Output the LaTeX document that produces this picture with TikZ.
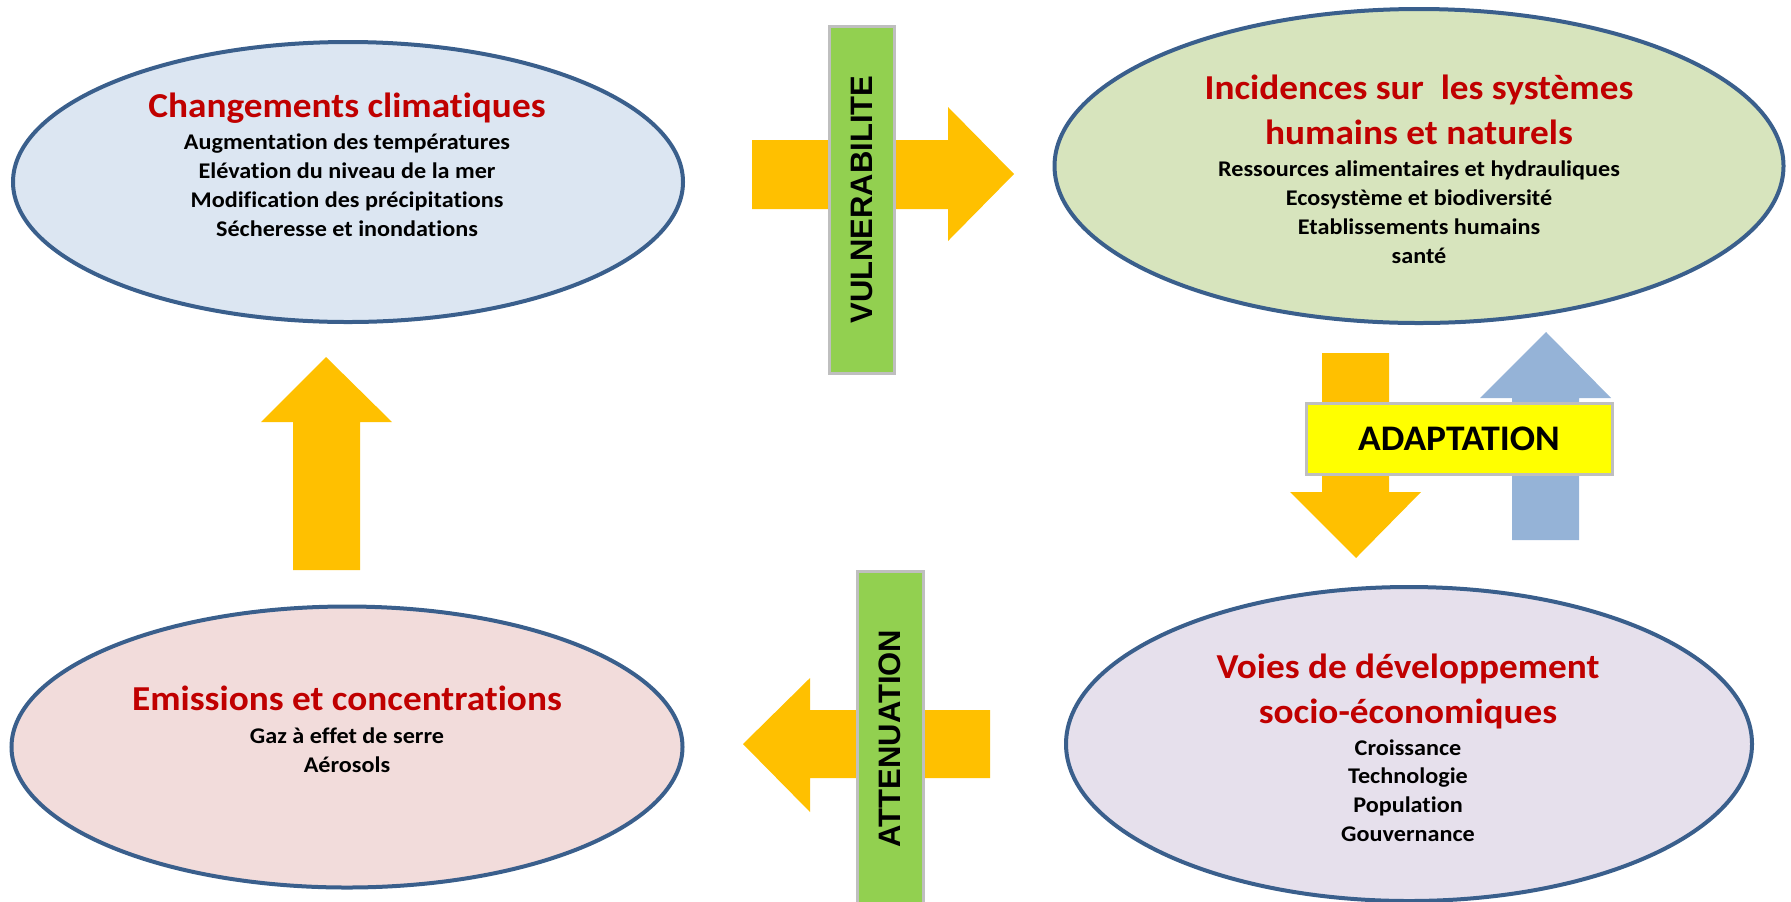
\documentclass[tikz,border=0pt]{standalone}
\usepackage{fontspec}
\setmainfont{Carlito}[RawFeature=-liga]
\newfontfamily\arialfont{Liberation Sans}
\newfontfamily\itemfont{Carlito}[FakeStretch=1.08, RawFeature=-liga]
\newfontfamily\titlefont{Carlito}[FakeStretch=1.065, RawFeature=-liga]
\newfontfamily\boxfont{Carlito}[FakeStretch=1.04, RawFeature=-liga]
\usetikzlibrary{shapes.geometric}
\definecolor{ringblue}{HTML}{3A5F8C}
\definecolor{titlered}{HTML}{C00000}
\definecolor{fillblue}{HTML}{DCE6F2}
\definecolor{fillgreen}{HTML}{D7E4BD}
\definecolor{fillpink}{HTML}{F2DCDB}
\definecolor{filllav}{HTML}{E6E0EC}
\definecolor{bargreen}{HTML}{92D050}
\definecolor{bargray}{HTML}{BFBFBF}
\definecolor{arroworange}{HTML}{FFC000}
\definecolor{arrowblue}{HTML}{95B3D7}
\definecolor{boxyellow}{HTML}{FFFF00}
\tikzset{
  bubble/.style={ellipse, draw=ringblue, line width=2pt, inner sep=0pt},
  ttl/.style={anchor=base, text=titlered, font=\titlefont\fontsize{17.5}{21}\selectfont\bfseries},
  itm/.style={anchor=base, font=\itemfont\fontsize{11.2}{13}\selectfont\bfseries},
  barbox/.style={rectangle, fill=bargreen, draw=bargray, line width=1.5pt, inner sep=0pt,
     font=\arialfont\fontsize{15.5}{18}\selectfont\bfseries, rotate=90},
  blockarrow/.style={fill=arroworange},
  bluearrow/.style={fill=arrowblue},
}
\begin{document}
\begin{tikzpicture}[x=0.5pt,y=-0.5pt]
\useasboundingbox (0,0) rectangle (1791,901);

% ellipses
\node[bubble, fill=fillblue, minimum width=335pt, minimum height=140pt] (cc) at (348,182) {};
\node[bubble, fill=fillgreen, minimum width=364.5pt, minimum height=157pt] (inc) at (1419,166) {};
\node[bubble, fill=fillpink, minimum width=335.5pt, minimum height=140.5pt] (em) at (347,747) {};
\node[bubble, fill=filllav, minimum width=343pt, minimum height=157pt] (voies) at (1409,744) {};

% texts: Changements climatiques
\node[ttl] (cct) at (347,117) {Changements climatiques};
\node[itm] (cc1) at (347,149) {Augmentation des températures};
\node[itm] (cc2) at (347,178) {Elévation du niveau de la mer};
\node[itm] (cc3) at (347,207) {Modification des précipitations};
\node[itm] (cc4) at (347,236) {Sécheresse et inondations};

% Incidences
\node[ttl] (inct1) at (1419,99) {Incidences sur\ \ les systèmes};
\node[ttl] (inct2) at (1419,144) {humains et naturels};
\node[itm] (inc1) at (1419,176) {Ressources alimentaires et hydrauliques};
\node[itm] (inc2) at (1419,205) {Ecosystème et biodiversité};
\node[itm] (inc3) at (1419,234) {Etablissements humains};
\node[itm] (inc4) at (1419,263) {santé};

% Emissions
\node[ttl] (emt) at (347,710) {Emissions et concentrations};
\node[itm] (em1) at (347,743) {Gaz à effet de serre};
\node[itm] (em2) at (347,772) {Aérosols};

% Voies
\node[ttl] (vt1) at (1408,678) {Voies de développement};
\node[ttl] (vt2) at (1408,723) {socio-économiques};
\node[itm] (v1) at (1408,755) {Croissance};
\node[itm] (v2) at (1408,783) {Technologie};
\node[itm] (v3) at (1408,812) {Population};
\node[itm] (v4) at (1408,841) {Gouvernance};

% block arrows
\fill[blockarrow] (752,140) -- (948,140) -- (948,107) -- (1014,174) -- (948,241) -- (948,209) -- (752,209) -- cycle;
\fill[blockarrow] (293,570) -- (293,422) -- (261,422) -- (326,357) -- (392,422) -- (360,422) -- (360,570) -- cycle;
\fill[blockarrow] (990,710) -- (810,710) -- (810,678) -- (743,744) -- (810,812) -- (810,778) -- (990,778) -- cycle;
\fill[blockarrow] (1322,353) -- (1389,353) -- (1389,492) -- (1421,492) -- (1356,558) -- (1290,492) -- (1322,492) -- cycle;
\fill[bluearrow] (1512,540) -- (1512,398) -- (1480,398) -- (1546,332) -- (1611,398) -- (1579,398) -- (1579,540) -- cycle;

% bars
\node[barbox, minimum width=173.5pt, minimum height=32.5pt] (vul) at (861.5,199.5) {VULNERABILITE};
\node[barbox, minimum width=167.5pt, minimum height=33pt] (att) at (890,738.5) {ATTENUATION};
\node[rectangle, fill=boxyellow, draw=bargray, line width=1.5pt, minimum width=153pt, minimum height=35.5pt,
      font=\boxfont\fontsize{18}{21}\selectfont\bfseries] (adapt) at (1459,438.5) {ADAPTATION};
\end{tikzpicture}
\end{document}
